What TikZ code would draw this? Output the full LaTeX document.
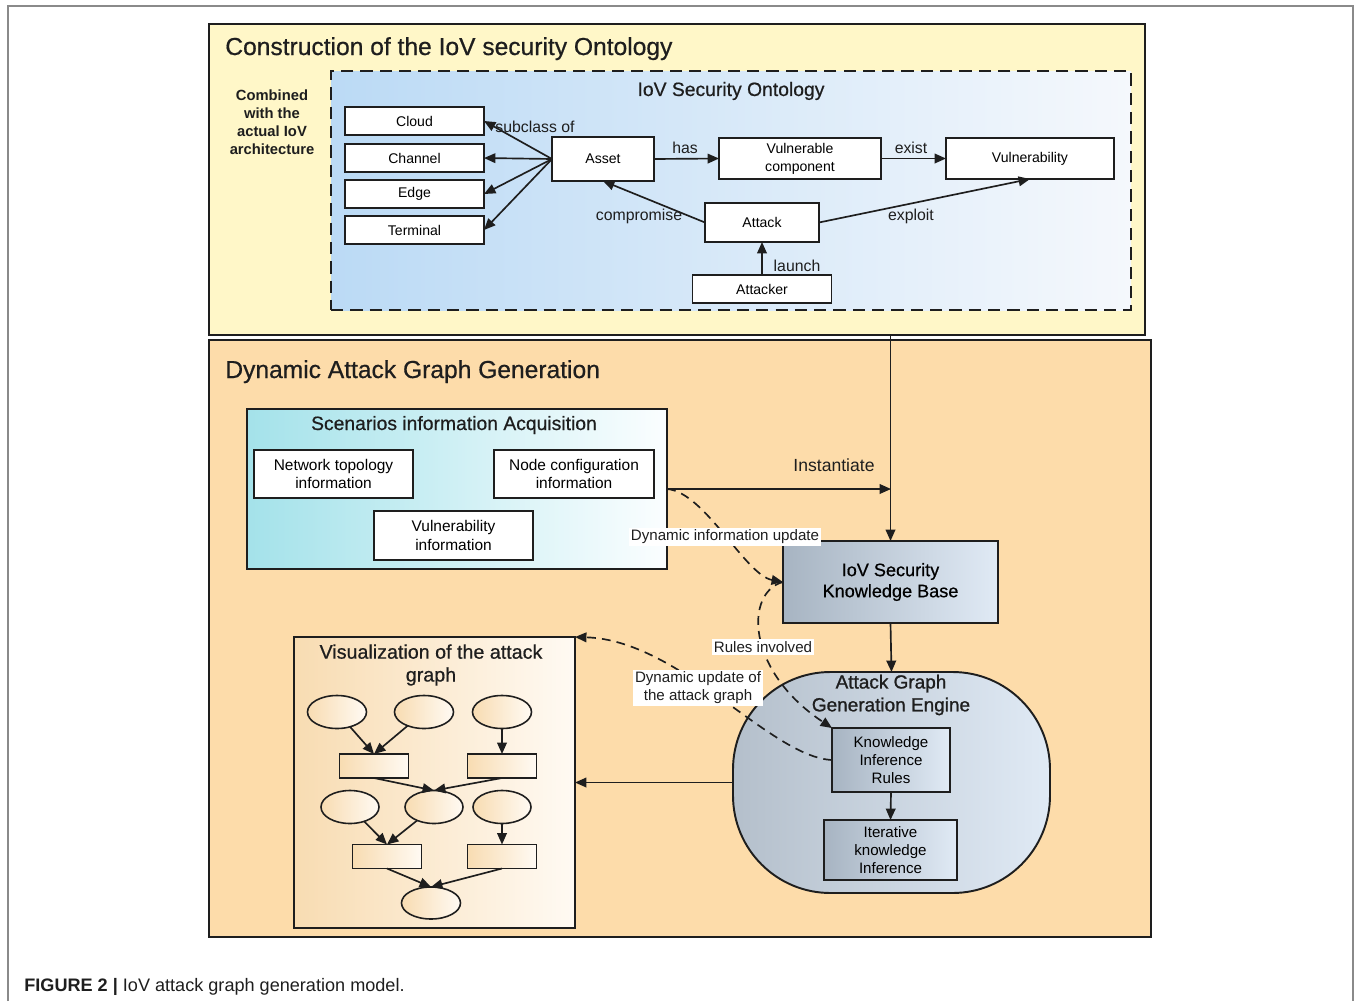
\documentclass[tikz,border=0pt]{standalone}
\usepackage{fontspec}
\setmainfont{Liberation Sans}
\newfontfamily\medium{Liberation Sans}[FakeBold=0.6]
\newfontfamily\semibold{Liberation Sans}[FakeBold=1.1]
\usetikzlibrary{arrows.meta,calc,shapes.geometric}

\definecolor{ontofill}{HTML}{FFF7C8}
\definecolor{dagfill}{HTML}{FDDCAA}
\definecolor{framegray}{HTML}{8A8A8A}
\definecolor{inkc}{HTML}{1E1E1E}
\definecolor{skyL}{HTML}{BBDAF5}
\definecolor{skyR}{HTML}{F5F8FC}
\definecolor{cyanL}{HTML}{A4E2EA}
\definecolor{cyanR}{HTML}{FBFEFF}
\definecolor{steelL}{HTML}{A7B4C2}
\definecolor{steelR}{HTML}{E0EAF5}
\definecolor{sandL}{HTML}{F8DCB2}
\definecolor{sandR}{HTML}{FFFAF3}

\newcommand\fs[2]{\fontsize{#1}{#2}\selectfont}

\begin{document}
\begin{tikzpicture}[x=0.02cm, y=-0.02cm,
  sz/.style 2 args={minimum width=#1*0.02cm, minimum height=#2*0.02cm, inner sep=0pt, outer sep=0pt},
  region/.style={draw=inkc, line width=1.1pt},
  plain/.style={draw=inkc, line width=1pt, fill=white, align=center, font=\fs{8}{10.2}},
  steelbox/.style={draw=inkc, line width=1pt, left color=steelL, right color=steelR, align=center},
  arr/.style={-{Triangle[length=6.5pt,width=5.5pt]}, line width=0.95pt, draw=inkc},
  dasharr/.style={arr, dash pattern=on 5pt off 3.5pt},
  lbl/.style={font=\fs{9}{10}, inner sep=1pt, text=inkc},
  whitelbl/.style={font=\fs{8.6}{10.2}, fill=white, inner sep=1.2pt, align=center, text=inkc},
  title/.style={font=\medium\fs{14}{16}, text=inkc, inner sep=0pt},
  subtitle/.style={font=\medium\fs{11}{13}, align=center, text=inkc},
  blob/.style={draw=inkc, line width=0.9pt, left color=sandL, right color=sandR, ellipse, inner sep=0pt, outer sep=0pt},
  bar/.style={draw=inkc, line width=0.9pt, left color=sandL, right color=sandR}
]
\useasboundingbox (0,0) rectangle (1356,1001);

% page frame
\draw[framegray, line width=0.6pt] (8,1001) -- (8,6) -- (1353,6) -- (1353,1001);

% ---------------- ontology construction ----------------
\node[region, fill=ontofill, sz={936}{311}] (onto) at (677,179.5) {};
\node[title, anchor=base west] (ontotitle) at (225,55) {Construction of the IoV security Ontology};
\node[font=\bfseries\fs{8.4}{10.2}, align=center, text=inkc] (combined) at (272,122)
  {Combined\\with the\\actual IoV\\architecture};

\node[sz={800}{239}, left color=skyL, right color=skyR, draw=inkc, line width=1.1pt,
      dash pattern=on 7pt off 4pt] (ontobox) at (731,190.5) {};
\node[subtitle] (ontoname) at (731,91) {IoV Security Ontology};

\node[plain, sz={139}{28}] (cloud) at (414.5,121) {Cloud};
\node[plain, sz={139}{28}] (channel) at (414.5,158) {Channel};
\node[plain, sz={139}{28}] (edge) at (414.5,194) {Edge};
\node[plain, sz={139}{28}] (terminal) at (414.5,230) {Terminal};
\node[plain, sz={102}{44}] (asset) at (603,159) {Asset};
\node[plain, sz={162}{41}] (vcomp) at (800,158.5) {Vulnerable\\component};
\node[plain, sz={168}{41}] (vuln) at (1030,158.5) {Vulnerability};
\node[plain, sz={114}{39}] (attack) at (762,222.5) {Attack};
\node[plain, sz={139}{28}] (attacker) at (762,289) {Attacker};

\draw[arr] (asset.west) -- (cloud.east);
\draw[arr] (asset.west) -- (channel.east);
\draw[arr] (asset.west) -- (edge.east);
\draw[arr] (asset.west) -- (terminal.east);
\node[lbl] (subcl) at (535,127) {subclass of};

\draw[arr] (asset.east) -- (vcomp.west);
\node[lbl] (has) at (685,148) {has};
\draw[arr] (vcomp.east) -- (vuln.west);
\node[lbl] (exist) at (911,148) {exist};
\draw[arr] (attack.west) -- (asset.south);
\node[lbl] (compr) at (639,216) {compromise};
\draw[arr] (attack.east) -- (vuln.south);
\node[lbl] (exploit) at (911,216) {exploit};
\draw[arr] (attacker.north) -- (attack.south);
\node[lbl] (launch) at (797,266) {launch};

% ---------------- dynamic attack graph generation ----------------
\node[region, fill=dagfill, sz={942}{597}] (dag) at (680,638.5) {};
\node[title, anchor=base west] (dagtitle) at (225,378) {Dynamic Attack Graph Generation};

% scenario information
\node[region, sz={420}{160}, left color=cyanL, right color=cyanR] (scen) at (457,489) {};
\node[subtitle] (scentitle) at (454,425) {Scenarios information Acquisition};
\node[plain, sz={159}{48}, font=\fs{8.8}{10.4}] (topo) at (333.5,474) {Network topology\\information};
\node[plain, sz={160}{48}, font=\fs{8.8}{10.4}] (nconf) at (574,474) {Node configuration\\information};
\node[plain, sz={159}{49}, font=\fs{8.8}{10.4}] (vinfo) at (453.5,535.5) {Vulnerability\\information};

% knowledge base
\node[steelbox, sz={215}{82}, font=\medium\fs{10.3}{12}] (kb) at (890.5,582) {IoV Security\\Knowledge Base};
\draw[arr] (onto.south -| kb.north) -- (kb.north);

\coordinate (instA) at (667,489);
\coordinate (instB) at (891,489);
\draw[arr] (instA) -- (instB);
\node[font=\fs{10}{11}, text=inkc] (instlbl) at (834,465) {Instantiate};

% attack graph generation engine
\node[draw=inkc, line width=1.1pt, left color=steelL!85!white, right color=steelR,
      rounded corners=1.95cm, sz={317}{221}] (engine) at (891.5,782.5) {};
\node[font=\semibold\fs{10.8}{13}, align=center, text=inkc] (engtitle) at (891,695) {Attack Graph\\Generation Engine};
\node[steelbox, sz={118}{64}, font=\fs{8.6}{10.2}] (kir) at (891,760) {Knowledge\\Inference\\Rules};
\node[steelbox, sz={133}{60}, font=\fs{8.6}{10.2}] (iter) at (890.5,850) {Iterative\\knowledge\\Inference};
\draw[arr] (kb.south) -- (engine.north);
\draw[arr] (kir.south) -- (iter.north);

% visualization of the attack graph
\node[region, sz={281}{291}, left color=sandL, right color=sandR] (vis) at (434.5,782.5) {};
\node[subtitle, font=\medium\fs{11.2}{13}] (vistitle) at (431,665) {Visualization of the attack\\graph};
\draw[arr] (engine.west) -- (vis.east);

\node[blob, minimum width=59*0.02cm, minimum height=33*0.02cm] (e1) at (337,712) {};
\node[blob, minimum width=59*0.02cm, minimum height=33*0.02cm] (e2) at (424,712) {};
\node[blob, minimum width=59*0.02cm, minimum height=33*0.02cm] (e3) at (502,712) {};
\node[bar, sz={69}{24}] (r1) at (374,766) {};
\node[bar, sz={69}{24}] (r2) at (502,766) {};
\node[blob, minimum width=58*0.02cm, minimum height=33*0.02cm] (e4) at (350,807) {};
\node[blob, minimum width=58*0.02cm, minimum height=33*0.02cm] (e5) at (434,807) {};
\node[blob, minimum width=58*0.02cm, minimum height=33*0.02cm] (e6) at (502,807) {};
\node[bar, sz={69}{24}] (r3) at (387,856.5) {};
\node[bar, sz={69}{24}] (r4) at (502,856.5) {};
\node[blob, minimum width=59*0.02cm, minimum height=32*0.02cm] (e7) at (431,903) {};

\draw[arr] (e1) -- (r1.north);
\draw[arr] (e2) -- (r1.north);
\draw[arr] (e3) -- (r2.north);
\draw[arr] (r1.south) -- (e5.north);
\draw[arr] (r2.south) -- (e5.north);
\draw[arr] (e4) -- (r3.north);
\draw[arr] (e5) -- (r3.north);
\draw[arr] (e6) -- (r4.north);
\draw[arr] (r3.south) -- (e7.north);
\draw[arr] (r4.south) -- (e7.north);

% dashed feedback connectors
\draw[dasharr] (instA) .. controls (705,492) and (745,575) .. (kb.west);
\draw[dasharr] (kb.west) .. controls (745,592) and (745,670) .. (kir.north west);
\draw[dasharr] (kir.west) .. controls (770,757) and (680,640) .. (vis.north east);

\node[whitelbl] (diu) at (725,537) {Dynamic information update};
\node[whitelbl] (rinv) at (763,647) {Rules involved};
\node[whitelbl] (duag) at (698,688) {Dynamic update of\\the attack graph};

% caption
\node[anchor=base west, inner sep=0pt, font=\fs{10.3}{12}, text=inkc] (caption) at (24,991)
  {\textbf{FIGURE 2 |} IoV attack graph generation model.};
\end{tikzpicture}
\end{document}
